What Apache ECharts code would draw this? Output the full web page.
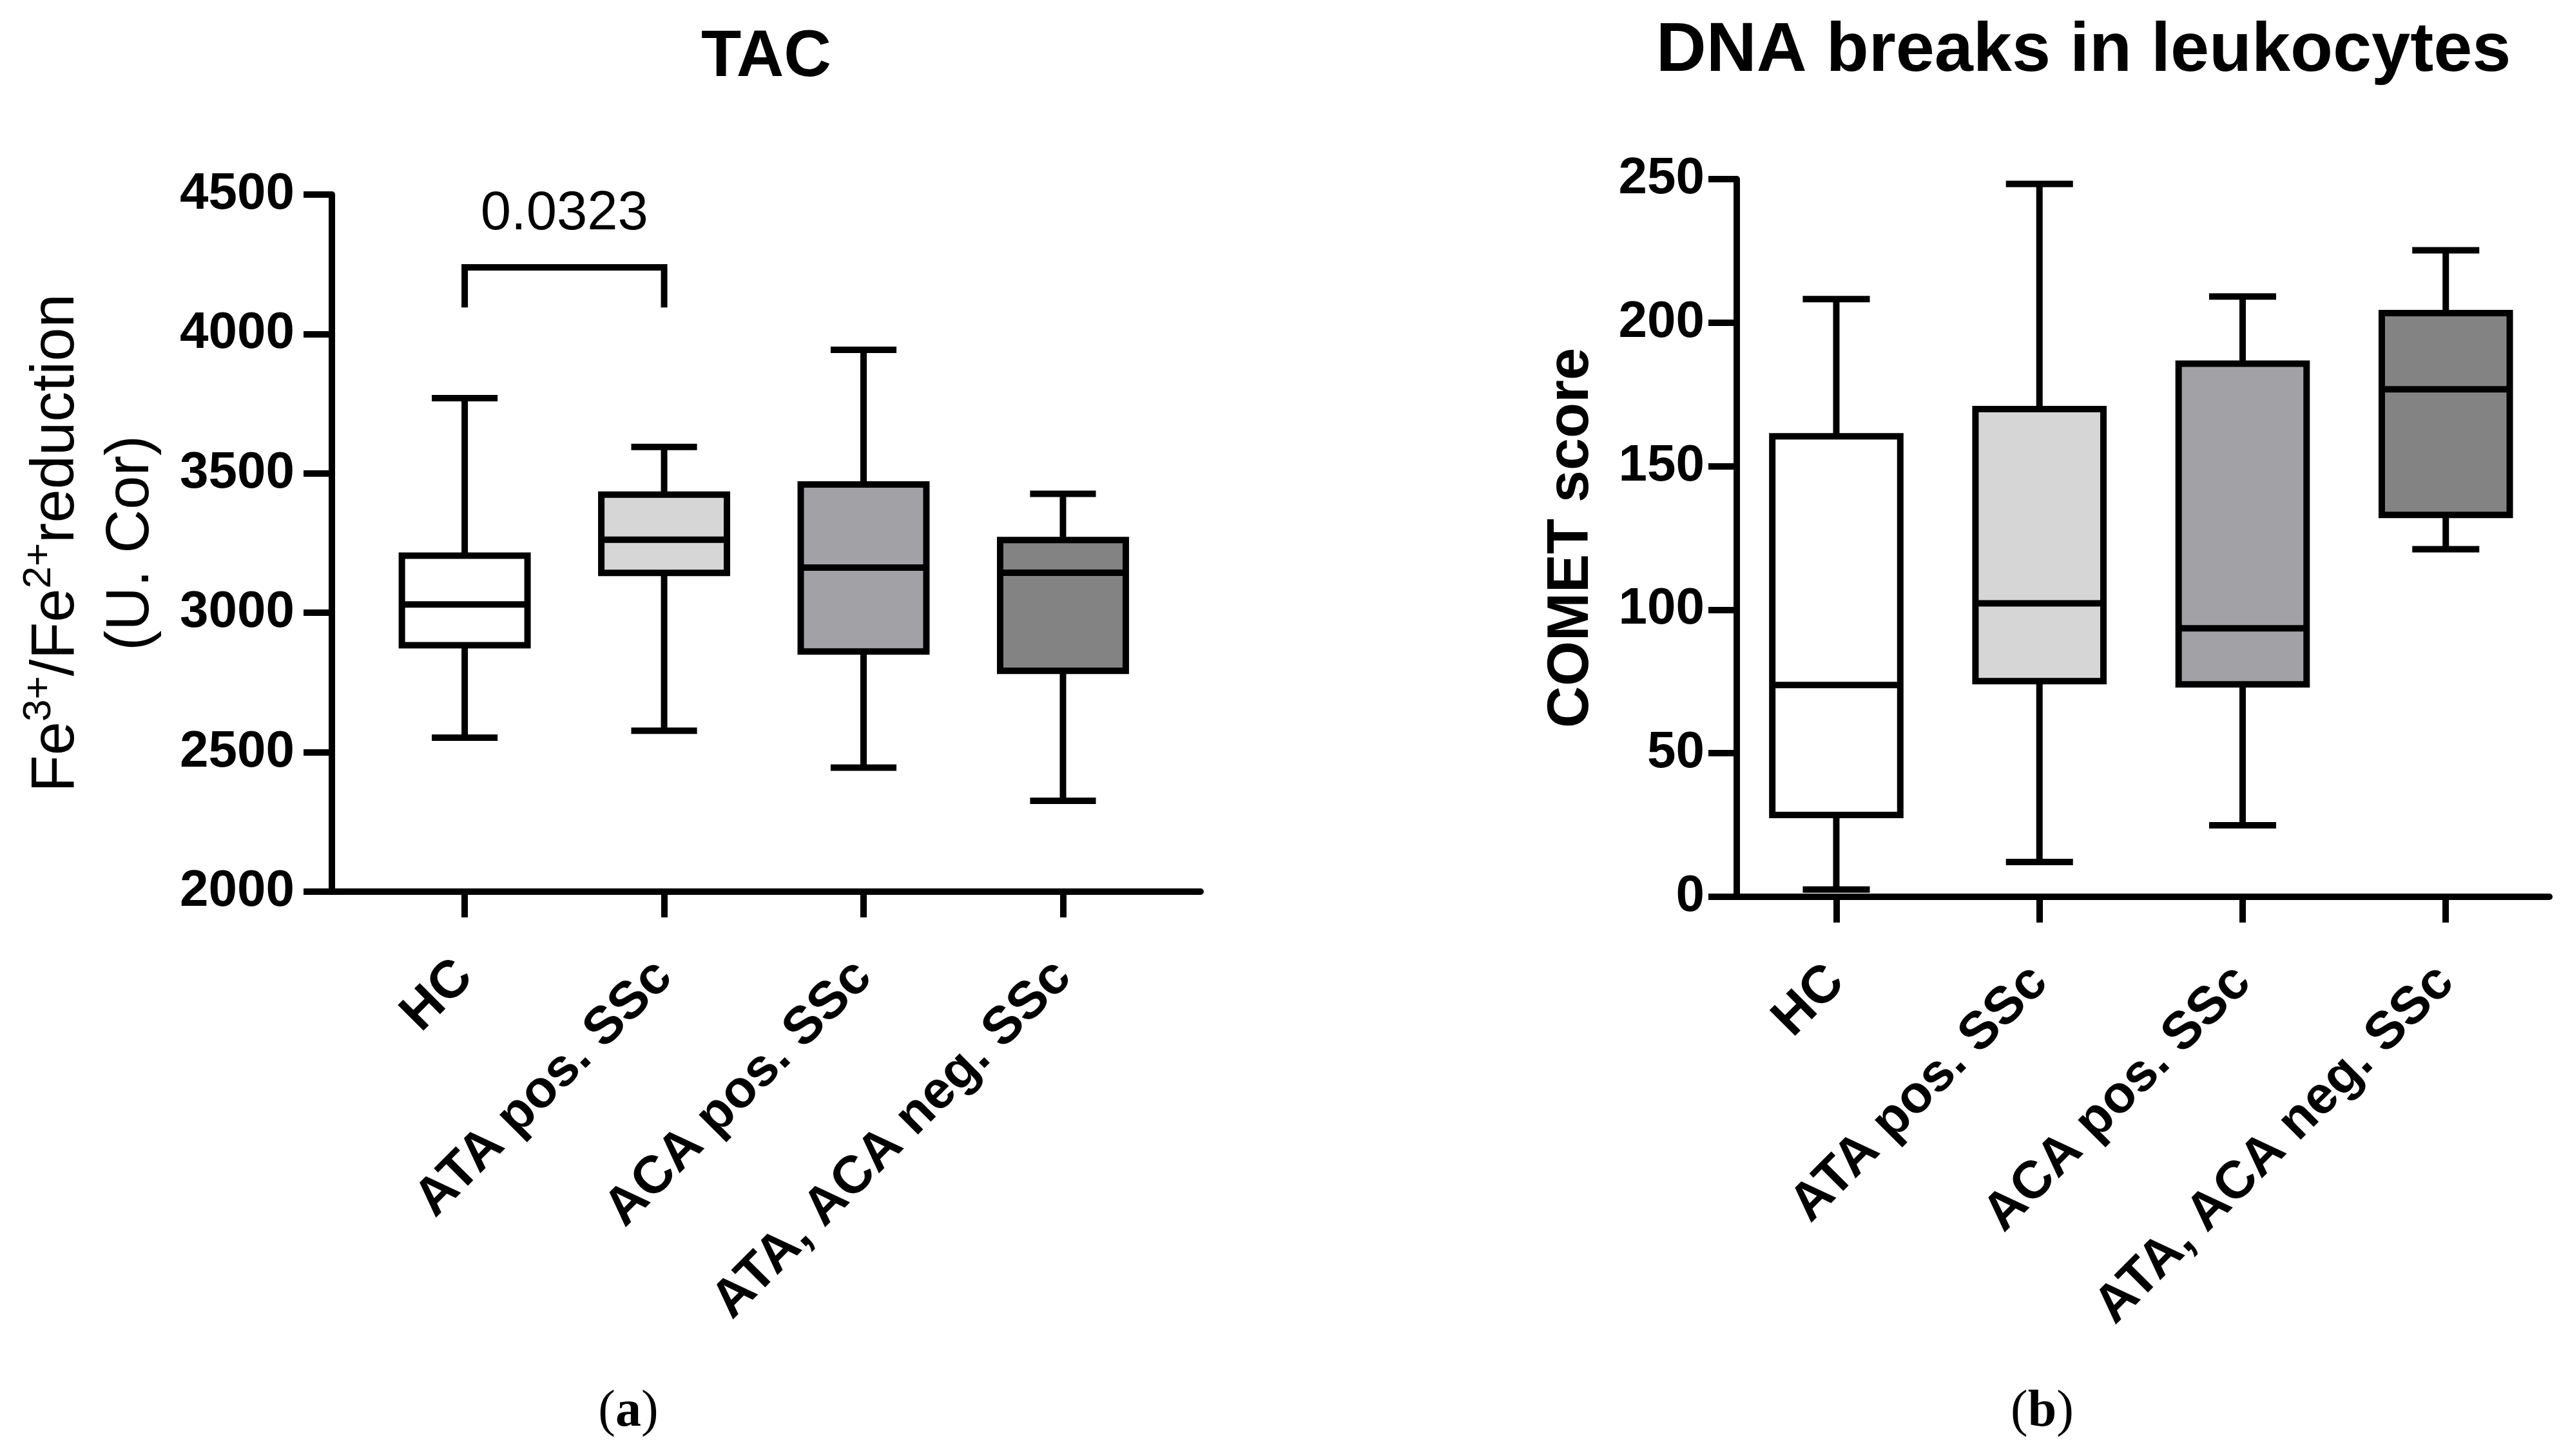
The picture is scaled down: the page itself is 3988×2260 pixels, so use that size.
<!DOCTYPE html>
<html>
<head>
    <meta charset="utf-8"/>
    <title>TAC / DNA breaks</title>
    <script src="https://cdn.jsdelivr.net/npm/echarts@6/dist/echarts.min.js"></script>
    <style>
        html, body { margin: 0; padding: 0; background: #fff; }
        #main { width: 3988px; height: 2260px; }
    </style>
</head>
<body>
<div id="main"></div>
<script>
    // groups on the x axis (same for both panels)
    var groups = ['HC', 'ATA pos. SSc', 'ACA pos. SSc', 'ATA, ACA neg. SSc'];
    var boxFills = ['#ffffff', '#d6d6d6', '#a2a1a6', '#838383'];

    // box stats per group: [min, Q1, median, Q3, max]
    var tacStats = [
        [2552, 2884, 3030, 3205, 3770],
        [2577, 3143, 3262, 3424, 3595],
        [2445, 2861, 3162, 3460, 3943],
        [2326, 2792, 3144, 3261, 3427]
    ];
    var cometStats = [
        [2.5, 28.5, 73.8, 160.4, 208.2],
        [12.1, 75.1, 102.2, 169.9, 248.3],
        [24.9, 74.0, 93.5, 185.7, 209.1],
        [121.1, 133.0, 176.8, 203.3, 225.2]
    ];

    // significance bracket on TAC panel: [groupA, groupB, legLow, top]
    var tacBracket = [0, 1, 4095, 4239];
    var tacPValue = '0.0323';

    var tickPos = [0, 1, 2, 3];
    var FONT = '"Liberation Sans", Arial, sans-serif';
    var SERIF = '"Liberation Serif", "Times New Roman", serif';
    var LW = 10;

    function toItems(stats) {
        return stats.map(function (s, i) {
            return {value: [i].concat(s), itemStyle: {color: boxFills[i]}};
        });
    }

    // draws one box + whiskers through the axes
    function renderBox(params, api) {
        var x = api.value(0);
        var lo = api.coord([x, api.value(1)]);
        var q1 = api.coord([x, api.value(2)]);
        var md = api.coord([x, api.value(3)]);
        var q3 = api.coord([x, api.value(4)]);
        var hi = api.coord([x, api.value(5)]);
        var band = api.size([1, 0])[0];
        var bw = band * 0.63, cw = band * 0.33;
        var cx = lo[0];
        var ls = {stroke: '#000', lineWidth: LW};
        return {
            type: 'group',
            children: [
                {type: 'line', shape: {x1: cx, y1: q3[1], x2: cx, y2: hi[1]}, style: ls},
                {type: 'line', shape: {x1: cx, y1: q1[1], x2: cx, y2: lo[1]}, style: ls},
                {type: 'line', shape: {x1: cx - cw / 2, y1: hi[1], x2: cx + cw / 2, y2: hi[1]}, style: ls},
                {type: 'line', shape: {x1: cx - cw / 2, y1: lo[1], x2: cx + cw / 2, y2: lo[1]}, style: ls},
                {
                    type: 'rect',
                    shape: {x: cx - bw / 2, y: q3[1], width: bw, height: q1[1] - q3[1]},
                    style: {fill: api.visual('color'), stroke: '#000', lineWidth: LW, lineJoin: 'miter'}
                },
                {type: 'line', shape: {x1: cx - bw / 2, y1: md[1], x2: cx + bw / 2, y2: md[1]}, style: ls}
            ]
        };
    }

    function renderBracket(params, api) {
        var a = api.coord([api.value(0), api.value(2)]);
        var b = api.coord([api.value(0), api.value(3)]);
        var c = api.coord([api.value(1), api.value(3)]);
        var d = api.coord([api.value(1), api.value(2)]);
        return {
            type: 'group',
            children: [
                {
                    type: 'polyline',
                    shape: {points: [a, b, c, d]},
                    style: {stroke: '#000', lineWidth: LW, fill: null, lineJoin: 'miter'}
                },
                {
                    type: 'text',
                    style: {
                        text: tacPValue, x: (b[0] + c[0]) / 2, y: b[1] - 40,
                        align: 'center', verticalAlign: 'bottom',
                        fontSize: 85, fontFamily: FONT, fill: '#000'
                    }
                }
            ]
        };
    }

    function xAxisOf(gi, min, max) {
        return {
            type: 'value', gridIndex: gi, min: min, max: max,
            axisLine: {show: true, onZero: false, lineStyle: {color: '#000', width: LW}},
            axisTick: {show: true, customValues: tickPos, length: 40, lineStyle: {color: '#000', width: LW}},
            axisLabel: {
                customValues: tickPos, rotate: 45, margin: 120,
                fontSize: 82, fontWeight: 'bold', fontFamily: FONT, color: '#000',
                formatter: function (v) { return groups[Math.round(v)]; }
            },
            splitLine: {show: false}
        };
    }

    function plainNum(v) { return String(v); }

    var chart = echarts.init(document.getElementById('main'));
    var option = {
        animation: false,
        backgroundColor: '#fff',
        grid: [
            {left: 515, top: 302, width: 1348, height: 1082},
            {left: 2695, top: 278, width: 1261, height: 1114}
        ],
        xAxis: [
            xAxisOf(0, -0.666, 3.69),
            xAxisOf(1, -0.49, 3.51)
        ],
        yAxis: [
            {
                type: 'value', gridIndex: 0, min: 2000, max: 4500, interval: 500,
                axisLine: {show: true, onZero: false, lineStyle: {color: '#000', width: LW}},
                axisTick: {length: 44, lineStyle: {color: '#000', width: LW}},
                axisLabel: {margin: 58, fontSize: 80, fontWeight: 'bold', fontFamily: FONT, color: '#000', formatter: plainNum},
                splitLine: {show: false},
                name: '{m|Fe}{s|3+}{m|/Fe}{s|2+}{m|reduction}\n{m|(U. Cor)}',
                nameLocation: 'middle', nameRotate: 90, nameGap: 253,
                nameTextStyle: {
                    fontSize: 94, lineHeight: 116, fontFamily: FONT, color: '#000',
                    rich: {
                        m: {fontSize: 94, lineHeight: 116, fontFamily: FONT, color: '#000'},
                        s: {fontSize: 62, lineHeight: 34, verticalAlign: 'top', fontFamily: FONT, color: '#000'}
                    }
                }
            },
            {
                type: 'value', gridIndex: 1, min: 0, max: 250, interval: 50,
                axisLine: {show: true, onZero: false, lineStyle: {color: '#000', width: LW}},
                axisTick: {length: 44, lineStyle: {color: '#000', width: LW}},
                axisLabel: {margin: 50, fontSize: 80, fontWeight: 'bold', fontFamily: FONT, color: '#000', formatter: plainNum},
                splitLine: {show: false},
                name: 'COMET score',
                nameLocation: 'middle', nameRotate: 90, nameGap: 211,
                nameTextStyle: {fontSize: 90, fontWeight: 'bold', fontFamily: FONT, color: '#000'}
            }
        ],
        graphic: [
            {type: 'text', x: 1189, y: 90, style: {text: 'TAC', align: 'center', verticalAlign: 'middle',
                fontSize: 102, fontWeight: 'bold', fontFamily: FONT, fill: '#000'}},
            {type: 'text', x: 3233, y: 80, style: {text: 'DNA breaks in leukocytes', align: 'center', verticalAlign: 'middle',
                fontSize: 108, fontWeight: 'bold', fontFamily: FONT, fill: '#000'}},
            {type: 'text', x: 975, y: 2192, style: {text: '({b|a})', align: 'center', verticalAlign: 'middle',
                fontSize: 80, fontFamily: SERIF, fill: '#000',
                rich: {b: {fontSize: 80, fontWeight: 'bold', fontFamily: SERIF, fill: '#000'}}}},
            {type: 'text', x: 3169, y: 2192, style: {text: '({b|b})', align: 'center', verticalAlign: 'middle',
                fontSize: 80, fontFamily: SERIF, fill: '#000',
                rich: {b: {fontSize: 80, fontWeight: 'bold', fontFamily: SERIF, fill: '#000'}}}}
        ],
        series: [
            {
                type: 'custom', xAxisIndex: 0, yAxisIndex: 0,
                renderItem: renderBox, encode: {x: 0, y: [1, 2, 3, 4, 5]},
                data: toItems(tacStats)
            },
            {
                type: 'custom', xAxisIndex: 0, yAxisIndex: 0,
                renderItem: renderBracket, encode: {x: [0, 1], y: [2, 3]},
                data: [tacBracket]
            },
            {
                type: 'custom', xAxisIndex: 1, yAxisIndex: 1,
                renderItem: renderBox, encode: {x: 0, y: [1, 2, 3, 4, 5]},
                data: toItems(cometStats)
            }
        ]
    };
    chart.setOption(option);
</script>
</body>
</html>
